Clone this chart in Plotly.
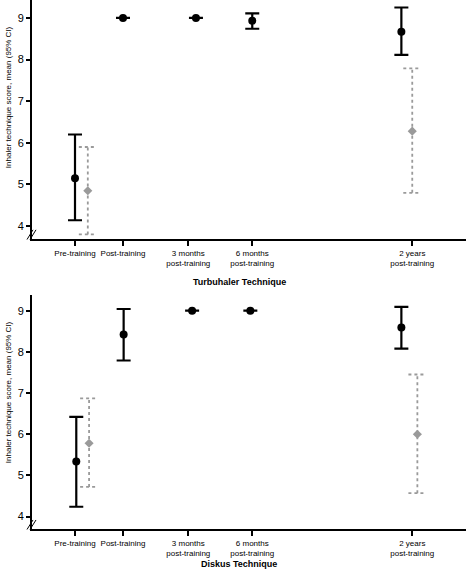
import plotly.graph_objects as go

# ---------------- data ----------------
timepoints = ["Pre-training", "Post-training", "3 months<br>post-training",
              "6 months<br>post-training", "2 years<br>post-training"]
tick_pos = [0.0, 0.75, 1.77, 2.77, 5.27]

# Turbuhaler - black series (all timepoints)
turbo_black_mean = [5.15, 9.0, 9.0, 8.93, 8.67]
turbo_black_hi = [6.2, 9.0, 9.0, 9.11, 9.25]
turbo_black_lo = [4.14, 9.0, 9.0, 8.74, 8.11]
# Turbuhaler - grey series (pre-training and 2 years)
turbo_grey_idx = [0, 4]
turbo_grey_mean = [4.85, 6.28]
turbo_grey_hi = [5.9, 7.79]
turbo_grey_lo = [3.8, 4.8]

# Diskus - black series
disk_black_mean = [5.34, 8.42, 9.0, 9.0, 8.59]
disk_black_hi = [6.42, 9.04, 9.0, 9.0, 9.09]
disk_black_lo = [4.24, 7.79, 9.0, 9.0, 8.08]
# Diskus - grey series
disk_grey_idx = [0, 4]
disk_grey_mean = [5.78, 6.0]
disk_grey_hi = [6.87, 7.45]
disk_grey_lo = [4.72, 4.57]

y_ticks = [4, 5, 6, 7, 8, 9]
y_title = "Inhaler technique score, mean (95% CI)"
panel_titles = ["Turbuhaler Technique", "Diskus Technique"]

# ---------------- style ----------------
black_off_top = [0.0, 0.0, 0.12, 0.0, -0.17]
black_off_bot = [0.02, 0.01, 0.06, -0.03, -0.17]
grey_off_top = [0.2, 0.0]
grey_off_bot = [0.22, 0.08]
GREY = "#9a9a9a"
cap_half = 0.14
FONT = "Arial, Liberation Sans"

fig = go.Figure()


def add_panel(xa, ya, bm, bh, bl, gidx, gm, gh, gl, boff, goff):
    bx = [tick_pos[i] + boff[i] for i in range(len(bm))]
    fig.add_trace(go.Scatter(
        x=bx, y=bm, mode="markers", xaxis=xa, yaxis=ya, showlegend=False,
        marker=dict(color="black", size=8, symbol="circle"),
        error_y=dict(type="data", symmetric=False,
                     array=[h - m for h, m in zip(bh, bm)],
                     arrayminus=[m - l for m, l in zip(bm, bl)],
                     color="black", thickness=2.2, width=7)))
    gx = [tick_pos[i] + goff[k] for k, i in enumerate(gidx)]
    for x, m, h, l in zip(gx, gm, gh, gl):
        fig.add_trace(go.Scatter(x=[x, x], y=[l, h], mode="lines", xaxis=xa, yaxis=ya,
                                 showlegend=False, line=dict(color=GREY, width=1.8, dash="dot")))
        for v in (h, l):
            fig.add_trace(go.Scatter(x=[x - cap_half, x + cap_half], y=[v, v], mode="lines",
                                     xaxis=xa, yaxis=ya, showlegend=False,
                                     line=dict(color=GREY, width=1.8, dash="dot")))
    fig.add_trace(go.Scatter(x=gx, y=gm, mode="markers", xaxis=xa, yaxis=ya, showlegend=False,
                             marker=dict(color=GREY, size=7, symbol="diamond")))


add_panel("x", "y", turbo_black_mean, turbo_black_hi, turbo_black_lo,
          turbo_grey_idx, turbo_grey_mean, turbo_grey_hi, turbo_grey_lo,
          black_off_top, grey_off_top)
add_panel("x2", "y2", disk_black_mean, disk_black_hi, disk_black_lo,
          disk_grey_idx, disk_grey_mean, disk_grey_hi, disk_grey_lo,
          black_off_bot, grey_off_bot)

xcommon = dict(range=[-0.672, 6.11], tickmode="array", tickvals=tick_pos, ticktext=timepoints,
               tickangle=0, ticklabelstandoff=0,
               showline=True, linewidth=2, linecolor="black", ticks="outside", ticklen=5,
               tickwidth=1.5, tickcolor="black", showgrid=False, zeroline=False,
               tickfont=dict(family=FONT, size=8, color="black"))
ycommon = dict(tickmode="array", tickvals=y_ticks, showline=True, linewidth=2,
               linecolor="black", ticks="outside", ticklen=4, tickwidth=1.5,
               tickcolor="black", showgrid=False, zeroline=False,
               tickfont=dict(family=FONT, size=11, color="black"))

fig.update_layout(
    width=470, height=579, margin=dict(l=32, r=4, t=0, b=0),
    plot_bgcolor="white", paper_bgcolor="white",
    xaxis=dict(domain=[0, 1], anchor="y", **xcommon),
    yaxis=dict(domain=[0.5872, 1.0], anchor="x", range=[3.69, 9.43], **ycommon),
    xaxis2=dict(domain=[0, 1], anchor="y2", **xcommon),
    yaxis2=dict(domain=[0.0864, 0.4905], anchor="x2", range=[3.70, 9.38], **ycommon),
)

annos = []
# y-axis titles
for ycen in (1 - 97 / 579, 1 - 392 / 579):
    annos.append(dict(text=y_title, xref="paper", yref="paper", x=-0.055, y=ycen,
                      showarrow=False, textangle=-90, xanchor="center", yanchor="middle",
                      font=dict(family=FONT, size=8, color="black")))
# panel titles
for t, py in zip(panel_titles, (282, 564)):
    annos.append(dict(text="<b>%s</b>" % t, xref="paper", yref="paper",
                      x=(239 - 32) / 434, y=1 - py / 579, showarrow=False,
                      xanchor="center", yanchor="middle",
                      font=dict(family=FONT, size=9, color="black")))
fig.update_layout(annotations=annos)

# axis-break marks
shapes = []
for xr, yr in (("x domain", "y domain"), ("x2 domain", "y2 domain")):
    for dx in (0, 3):
        shapes.append(dict(type="line", xref=xr, yref=yr,
                           x0=(-5 + dx) / 434, y0=-0.5 / 234,
                           x1=(1 + dx) / 434, y1=9 / 234,
                           line=dict(color="black", width=1)))
fig.update_layout(shapes=shapes)

fig.write_html("out.html", config={"displayModeBar": False},
               post_script="document.body.style.margin='0';")
